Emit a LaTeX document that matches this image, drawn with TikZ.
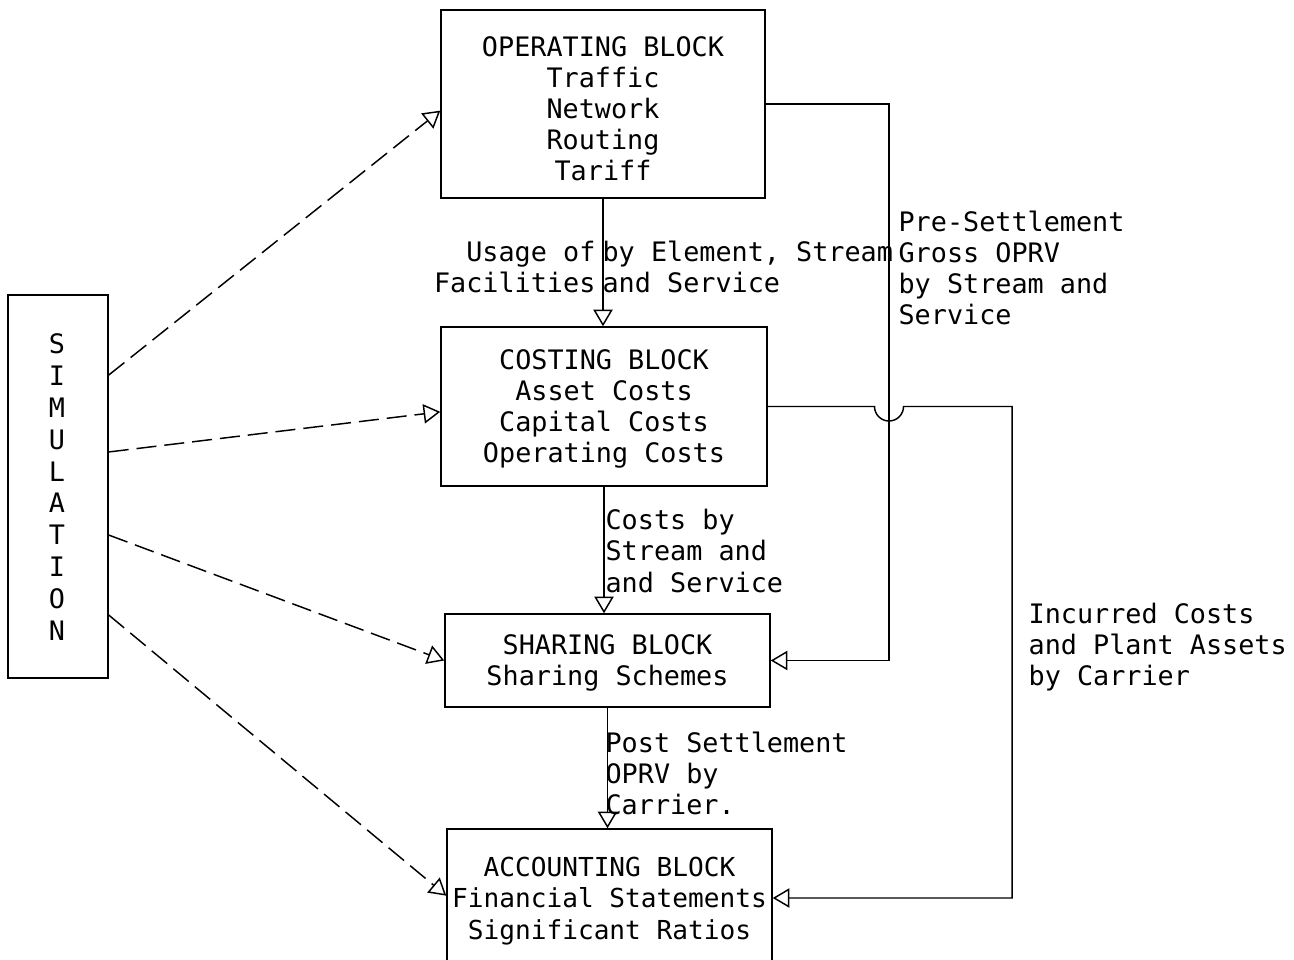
\documentclass[tikz,border=0pt]{standalone}
\usepackage{fontspec}
\newfontfamily\tw{DejaVu Sans Mono}
\usetikzlibrary{arrows.meta}
\begin{document}
\begin{tikzpicture}[x=0.75pt,y=-0.75pt,
  every node/.style={font=\tw\fontsize{20.1}{23.3}\selectfont, inner sep=1pt},
  blockbox/.style={draw, line width=1.1pt, inner sep=0pt},
  btext/.style={align=center, inner sep=0pt},
  conn/.style={line width=1.1pt},
  tip/.style={-{Triangle[open,length=12.5pt,width=14.5pt]}},
  sim/.style={conn, tip, dash pattern=on 15pt off 6pt},
  lbl/.style={align=left, anchor=west}]
\useasboundingbox (0,0) rectangle (1294,959);

% blocks
\node[blockbox, minimum width=243pt, minimum height=141pt] (op) at (603,104) {};
\node[btext] (opt) at (603,109)
  {OPERATING BLOCK\\Traffic\\Network\\Routing\\Tariff};
\node[blockbox, minimum width=244.5pt, minimum height=119.25pt] (co) at (604,406.5) {};
\node[btext] (cot) at (604,409)
  {COSTING BLOCK\\Asset Costs\\Capital Costs\\Operating Costs};
\node[blockbox, minimum width=243.75pt, minimum height=69.75pt] (sh) at (607.5,660.5) {};
\node[btext] (sht) at (607.5,662.5)
  {SHARING BLOCK\\Sharing Schemes};
\node[blockbox, minimum width=243.75pt, minimum height=108pt] (ac) at (609.5,901) {};
\node[btext, font=\tw\fontsize{19.6}{23.6}\selectfont] (act) at (609.5,901)
  {ACCOUNTING BLOCK\\Financial Statements\\Significant Ratios};
\node[blockbox, minimum width=75pt, minimum height=287.25pt] (sim) at (58,486.5) {};
\node[btext, font=\tw\fontsize{20.1}{23.85}\selectfont] (simt) at (57,487)
  {S\\I\\M\\U\\L\\A\\T\\I\\O\\N};

% vertical flows
\draw[conn,tip] (op.south) -- (op.south |- co.north);
\draw[conn,tip] (co.south) -- (co.south |- sh.north);
\draw[conn,tip] (sh.south) -- (sh.south |- ac.north);

% right side feedback lines
\coordinate (v1) at (889,0);
\coordinate (bl) at (874.5,0);
\coordinate (v2) at (1012,0);
\coordinate (acin) at (0,898);
\draw[conn,tip] (op.east) -| (v1 |- sh.east) -- (sh.east);
\draw[conn,tip] (co.east) -- (co.east -| bl)
  arc[start angle=180, end angle=0, radius=14.5]
  -- (co.east -| v2) |- (ac.east |- acin);

% simulation dashed arrows
\draw[sim] ([yshift=83.6pt]sim.east) -- ([yshift=-5pt]op.west);
\draw[sim] ([yshift=25.9pt]sim.east) -- ([yshift=-4pt]co.west);
\draw[sim] ([yshift=-36.4pt]sim.east) -- (sh.west);
\draw[sim] ([yshift=-96.4pt]sim.east) -- ([yshift=4pt]ac.west);

% labels
\node[align=right, anchor=east] (l1a) at (597,267) {Usage of\\Facilities};
\node[lbl] (l1b) at (601,267) {by Element, Stream\\and Service};
\node[lbl] (l2) at (897,268) {Pre-Settlement\\Gross OPRV\\by Stream and\\Service};
\node[lbl] (l3) at (604,551) {Costs by\\Stream and\\and Service};
\node[lbl] (l4) at (604,773) {Post Settlement\\OPRV by\\Carrier.};
\node[lbl] (l5) at (1027,647.5) {Incurred Costs\\and Plant Assets\\by Carrier};
\end{tikzpicture}
\end{document}
